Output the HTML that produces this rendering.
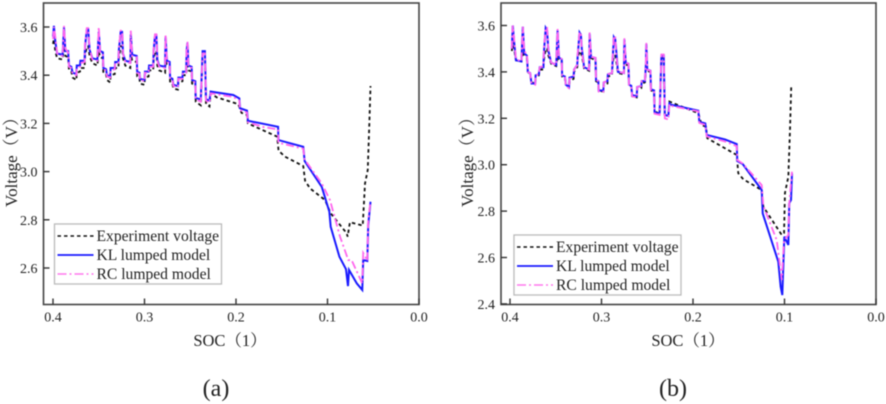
<!DOCTYPE html>
<html lang="en">
<head>
<meta charset="utf-8">
<title>Voltage vs SOC comparison</title>
<style>
html,body{margin:0;padding:0;background:#fff;width:886px;height:404px;overflow:hidden}
svg{display:block;filter:blur(.4px)}
text{font-family:"Liberation Serif","Noto Serif CJK SC",serif;fill:#222}
</style>
</head>
<body>
<svg id="figure" xmlns="http://www.w3.org/2000/svg" width="886" height="404" viewBox="0 0 886 404"></svg>
<script>
const xTickValues = [0.4, 0.3, 0.2, 0.1, 0.0];
const yTickValuesA = [3.6, 3.4, 3.2, 3.0, 2.8, 2.6];
const yTickValuesB = [3.6, 3.4, 3.2, 3.0, 2.8, 2.6, 2.4];
const legendLabels = ["Experiment voltage", "KL lumped model", "RC lumped model"];

const sawSocA = [.400,.399,.3975,.3955,.3895,.388,.3865,.3835,.3825,.380,
.3785,.3745,.374,.3705,.370,.3655,.365,.363,.3615,.360,
.357,.3515,.350,.3485,.3455,.345,.342,.341,.3375,.337,
.3325,.332,.3285,.328,.326,.3245,.3235,.321,.3155,.315,
.3135,.3085,.308,.3055,.305,.300,.2995,.2955,.295,.2905,
.290,.2885,.287,.286,.284,.2775,.277,.2755,.2725,.272,
.2695,.2685,.2635,.263,.2585,.258,.2545,.254,.253,.252,
.2485,.248,.2445,.244,.2385,.2365,.234,.2328,.229,.2277];
const sawKlA = [3.56,3.605,3.54,3.49,3.485,3.60,3.50,3.50,3.44,3.435,
3.41,3.405,3.44,3.44,3.46,3.46,3.52,3.59,3.59,3.505,
3.47,3.465,3.58,3.50,3.495,3.43,3.425,3.40,3.395,3.43,
3.43,3.455,3.455,3.505,3.58,3.58,3.49,3.46,3.455,3.57,
3.485,3.48,3.415,3.41,3.385,3.38,3.415,3.415,3.44,3.44,
3.50,3.565,3.565,3.465,3.44,3.435,3.56,3.46,3.455,3.39,
3.385,3.36,3.355,3.39,3.39,3.415,3.415,3.50,3.535,3.44,
3.435,3.38,3.375,3.305,3.30,3.50,3.50,3.30,3.295,3.33];
const sawRcA = [3.55,3.60,3.56,3.49,3.48,3.605,3.51,3.495,3.435,3.43,
3.405,3.40,3.43,3.435,3.45,3.455,3.53,3.595,3.595,3.51,
3.465,3.46,3.60,3.495,3.49,3.425,3.42,3.395,3.39,3.42,
3.425,3.45,3.45,3.51,3.585,3.585,3.49,3.455,3.45,3.585,
3.48,3.475,3.41,3.405,3.38,3.375,3.41,3.41,3.435,3.435,
3.51,3.57,3.57,3.46,3.435,3.43,3.57,3.455,3.45,3.385,
3.38,3.355,3.35,3.385,3.385,3.41,3.41,3.51,3.54,3.435,
3.43,3.375,3.37,3.30,3.29,3.49,3.49,3.295,3.285,3.32];
const sawExpA = [3.53,3.55,3.50,3.47,3.465,3.52,3.48,3.475,3.42,3.415,
3.39,3.38,3.41,3.415,3.43,3.43,3.48,3.52,3.52,3.48,
3.45,3.44,3.50,3.475,3.47,3.41,3.405,3.38,3.37,3.40,
3.405,3.43,3.43,3.47,3.52,3.52,3.47,3.44,3.43,3.49,
3.46,3.455,3.395,3.39,3.365,3.36,3.39,3.395,3.42,3.42,
3.46,3.50,3.50,3.44,3.42,3.41,3.46,3.44,3.435,3.37,
3.365,3.345,3.34,3.37,3.375,3.40,3.40,3.44,3.44,3.42,
3.415,3.365,3.36,3.29,3.275,3.49,3.49,3.28,3.27,3.325];

const tailSocKlA = [.2277,.203,.1964,.1956,.188,.187,.154,.1537,.1265,.125,.1063,.098,.0965,.087,.0798,.0776,.0765,.068,.062,.061,.0565,.0555,.053];
const tailKlA = [3.332,3.318,3.304,3.263,3.253,3.211,3.186,3.131,3.103,3.044,2.937,2.834,2.771,2.647,2.595,2.525,2.592,2.536,2.509,2.633,2.629,2.778,2.875];
const tailSocRcA = [.2277,.203,.1964,.1956,.188,.187,.17,.154,.1537,.1265,.125,.1063,.0973,.0863,.0773,.0737,.062,.061,.0565,.0555,.053];
const tailRcA = [3.325,3.31,3.295,3.255,3.245,3.205,3.185,3.175,3.12,3.095,3.05,2.951,2.882,2.73,2.633,2.633,2.536,2.662,2.63,2.80,2.875];
const tailSocExpA = [.2277,.221,.1975,.194,.188,.187,.155,.1535,.1465,.1265,.1245,.119,.1027,.0965,.079,.078,.0755,.0615,.059,.056,.0545,.053];
const tailExpA = [3.325,3.308,3.28,3.244,3.235,3.20,3.145,3.087,3.062,3.023,2.962,2.93,2.882,2.827,2.744,2.73,2.79,2.776,2.951,3.007,3.173,3.355];

const sawSocB = [.398,.397,.3955,.3935,.3875,.386,.3845,.3815,.3805,.378,
.3765,.3725,.372,.3685,.3675,.3635,.363,.361,.3595,.358,
.355,.3495,.348,.3465,.3435,.343,.340,.339,.3355,.335,
.3305,.330,.3265,.326,.324,.3225,.3215,.319,.3135,.313,
.3115,.3065,.306,.3035,.303,.298,.2975,.2935,.293,.2885,
.288,.2865,.285,.284,.282,.2755,.275,.2735,.2705,.270,
.2675,.2665,.2615,.261,.2565,.256,.2525,.2515,.251,.250,
.2465,.246,.2425,.242,.2365,.2345,.232,.2308,.227,.2257];
const sawKlB = [3.50,3.60,3.53,3.45,3.445,3.595,3.48,3.47,3.40,3.395,
3.35,3.35,3.385,3.39,3.42,3.42,3.48,3.59,3.58,3.49,
3.44,3.43,3.58,3.46,3.455,3.385,3.38,3.345,3.335,3.375,
3.38,3.41,3.43,3.47,3.57,3.56,3.50,3.42,3.41,3.565,
3.465,3.46,3.365,3.36,3.32,3.32,3.355,3.36,3.39,3.395,
3.44,3.55,3.54,3.495,3.40,3.395,3.54,3.44,3.435,3.345,
3.34,3.30,3.295,3.335,3.34,3.36,3.36,3.43,3.52,3.41,
3.405,3.325,3.32,3.225,3.22,3.47,3.47,3.215,3.21,3.27];
const sawRcB = [3.50,3.60,3.54,3.455,3.445,3.595,3.49,3.475,3.40,3.395,
3.35,3.345,3.385,3.39,3.42,3.425,3.49,3.59,3.59,3.49,
3.44,3.43,3.585,3.465,3.455,3.385,3.38,3.34,3.33,3.37,
3.38,3.41,3.43,3.48,3.57,3.57,3.49,3.42,3.41,3.57,
3.465,3.46,3.365,3.36,3.315,3.315,3.355,3.36,3.39,3.395,
3.45,3.555,3.55,3.48,3.40,3.395,3.545,3.44,3.435,3.345,
3.34,3.295,3.29,3.335,3.34,3.36,3.36,3.44,3.525,3.41,
3.405,3.32,3.315,3.22,3.215,3.475,3.475,3.20,3.195,3.26];
const sawExpB = [3.49,3.53,3.50,3.45,3.445,3.49,3.47,3.46,3.40,3.39,
3.355,3.35,3.375,3.385,3.41,3.41,3.45,3.50,3.50,3.47,
3.435,3.425,3.47,3.455,3.45,3.38,3.375,3.345,3.335,3.36,
3.37,3.40,3.42,3.46,3.49,3.48,3.47,3.415,3.405,3.47,
3.46,3.45,3.36,3.355,3.32,3.315,3.345,3.35,3.38,3.385,
3.43,3.47,3.47,3.45,3.395,3.39,3.44,3.43,3.43,3.34,
3.335,3.295,3.29,3.325,3.33,3.35,3.355,3.42,3.43,3.405,
3.40,3.32,3.315,3.23,3.22,3.46,3.46,3.215,3.21,3.265];

const tailSocKlB = [.2257,.1942,.1931,.1866,.185,.165,.1522,.1516,.1457,.1249,.1238,.1068,.1042,.1024,.1002,.0958,.0948,.0929,.0918];
const tailKlB = [3.26,3.233,3.185,3.178,3.128,3.109,3.089,3.016,3.003,2.891,2.79,2.582,2.474,2.438,2.69,2.654,2.834,2.848,2.963];
const tailSocRcB = [.2257,.1942,.1931,.1866,.185,.165,.1522,.1516,.1457,.1249,.1232,.1085,.103,.1005,.0958,.0948,.0918];
const tailRcB = [3.255,3.23,3.18,3.172,3.122,3.10,3.08,3.02,3.005,2.912,2.823,2.675,2.503,2.675,2.697,2.834,2.97];
const tailSocExpB = [.2257,.2215,.1942,.1905,.1858,.1844,.1522,.1505,.145,.1249,.1232,.103,.1005,.0995,.0958,.094,.0926];
const tailExpB = [3.272,3.265,3.222,3.171,3.164,3.114,3.042,2.963,2.937,2.891,2.819,2.697,2.706,2.878,2.948,3.15,3.344];

const NS = "http://www.w3.org/2000/svg";
const fig = document.getElementById("figure");

function make(tag, attrs, parent) {
  const el = document.createElementNS(NS, tag);
  for (const k in attrs) el.setAttribute(k, attrs[k]);
  parent.appendChild(el);
  return el;
}

function drawPanel(p) {
  const g = make("g", {}, fig);
  
  

  const sx = v => p.x04 + (0.4 - v) * p.pxPerSoc;
  const sy = v => p.y36 + (3.6 - v) * p.pxPerVolt;

  const frame = make("rect", {x: p.left, y: p.top, width: p.right - p.left, height: p.bottom - p.top, fill: "#fff", stroke: "#444", "stroke-width": 1.6}, g);
  
  

  xTickValues.forEach(v => {
    const tick = make("line", {x1: sx(v), x2: sx(v), y1: p.bottom, y2: p.bottom - 6, stroke: "#333", "stroke-width": 1.4}, g);
    
    
    const label = make("text", {x: sx(v), y: p.bottom + 17, "text-anchor": "middle", "font-size": 14}, g);
    
    
    label.textContent = v.toFixed(1);
  });

  p.yTicks.forEach(v => {
    const tick = make("line", {x1: p.left, x2: p.left + 6, y1: sy(v), y2: sy(v), stroke: "#333", "stroke-width": 1.4}, g);
    
    
    const label = make("text", {x: p.left - 6, y: sy(v) + 5, "text-anchor": "end", "font-size": 14}, g);
    
    
    label.textContent = v.toFixed(1);
  });

  const pathOf = (xs, ys) => xs.map((x, i) => (i ? "L" : "M") + sx(x).toFixed(2) + " " + sy(ys[i]).toFixed(2)).join("");

  const exp = make("path", {d: pathOf(p.expSoc, p.exp), fill: "none", stroke: "#111", "stroke-width": 1.8, "stroke-dasharray": "3.5 3"}, g);
  
  

  const kl = make("path", {d: pathOf(p.klSoc, p.kl), fill: "none", stroke: "#1a1aff", "stroke-width": 2}, g);
  
  

  const rc = make("path", {d: pathOf(p.rcSoc, p.rc), fill: "none", stroke: "#ff66ee", "stroke-width": 1.8, "stroke-dasharray": "8 3 2 3"}, g);
  
  

  const legend = make("g", {}, g);
  
  
  const box = make("rect", {x: p.legX, y: p.legY, width: 167, height: 60, fill: "#fff", stroke: "#bbb", "stroke-width": 1.3}, legend);
  
  
  const styles = [
    {stroke: "#111", "stroke-width": 1.5, "stroke-dasharray": "3.5 3"},
    {stroke: "#1a1aff", "stroke-width": 1.8},
    {stroke: "#ff77ee", "stroke-width": 1.4, "stroke-dasharray": "9 3 2 3"}
  ];
  legendLabels.forEach((txt, i) => {
    const ly = p.legY + 11 + i * 19;
    const sample = make("line", Object.assign({x1: p.legX + 3, x2: p.legX + 39, y1: ly + 1, y2: ly + 1}, styles[i]), legend);
    
    
    const t = make("text", {x: p.legX + 42, y: ly + 6, "font-size": 15.6}, legend);
    
    
    t.textContent = txt;
  });

  const xTitle = make("text", {x: p.xTitleX, y: 346, "text-anchor": "middle", "font-size": 16.5}, g);
  
  
  xTitle.textContent = "SOC（1）";

  const yTitle = make("text", {x: 0, y: 0, "text-anchor": "middle", "font-size": 17, transform: "translate(" + p.yTitleX + ",158) rotate(-90)"}, g);
  
  
  yTitle.textContent = "Voltage（V）";

  const cap = make("text", {x: p.capX, y: 396, "text-anchor": "middle", "font-size": 24}, g);
  
  
  cap.textContent = p.caption;
}

drawPanel({
  id: "a", caption: "(a)", left: 43.5, right: 419, top: 3, bottom: 304.5,
  x04: 53, pxPerSoc: 915, y36: 27, pxPerVolt: 241, yTicks: yTickValuesA,
  klSoc: sawSocA.concat(tailSocKlA), kl: sawKlA.concat(tailKlA),
  rcSoc: sawSocA.concat(tailSocRcA), rc: sawRcA.concat(tailRcA),
  expSoc: sawSocA.concat(tailSocExpA), exp: sawExpA.concat(tailExpA),
  legX: 54.5, legY: 224, xTitleX: 230, yTitleX: 17, capX: 216
});
drawPanel({
  id: "b", caption: "(b)", left: 501, right: 876, top: 3, bottom: 304.5,
  x04: 510, pxPerSoc: 915, y36: 25.5, pxPerVolt: 232, yTicks: yTickValuesB,
  klSoc: sawSocB.concat(tailSocKlB), kl: sawKlB.concat(tailKlB),
  rcSoc: sawSocB.concat(tailSocRcB), rc: sawRcB.concat(tailRcB),
  expSoc: sawSocB.concat(tailSocExpB), exp: sawExpB.concat(tailExpB),
  legX: 514, legY: 235, xTitleX: 688, yTitleX: 473, capX: 673
});
</script>
</body>
</html>
